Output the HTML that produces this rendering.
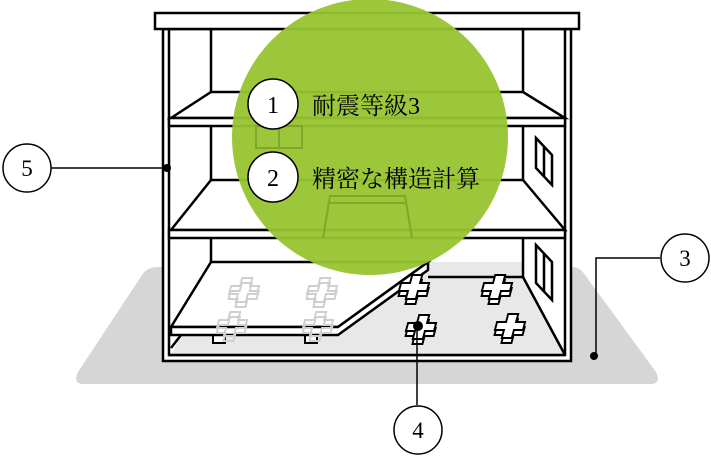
<!DOCTYPE html>
<html><head><meta charset="utf-8"><style>
html,body{margin:0;padding:0;background:#fff;width:711px;height:456px;overflow:hidden}
svg{display:block}
text{font-family:"Liberation Serif","Noto Serif CJK SC",serif}
</style></head><body>
<svg width="711" height="456" viewBox="0 0 711 456" xmlns="http://www.w3.org/2000/svg">
<defs>
<g id="plus" transform="skewX(-15)">
<path d="M-5,-12 L5,-12 L5,-4 L14,-4 L14,4 L5,4 L5,12 L-5,12 L-5,4 L-14,4 L-14,-4 L-5,-4 Z" transform="translate(1,5)"/>
<path d="M-5,-12 L5,-12 L5,-4 L14,-4 L14,4 L5,4 L5,12 L-5,12 L-5,4 L-14,4 L-14,-4 L-5,-4 Z"/>
</g>
</defs>
<path d="M158,267 L572,267 Q580,267 585,275 L656,372 Q662,384 650,384 L84,384 Q72,384 78,372 L142,275 Q147,267 158,267 Z" fill="#d6d6d6"/>
<g stroke="#000" stroke-width="2.5" fill="#fff">
<rect x="163" y="29" width="408" height="332" fill="#fff"/>
<rect x="169" y="29" width="396" height="326" fill="#fff"/>
<path d="M211,262 L523,262 L523,277 L565,355 L171,355 L181,335 L211,262 Z" fill="#e8e8e8" stroke="none"/>
<line x1="211" y1="29" x2="211" y2="262"/>
<line x1="523" y1="29" x2="523" y2="277"/>
<path d="M211,92 L523,92 L565,118 L171,118 Z"/>
<rect x="169" y="118" width="396" height="8"/>
<path d="M211,180 L523,180 L565,230 L171,230 Z"/>
<rect x="169" y="230" width="396" height="8"/>
<line x1="428" y1="277" x2="523" y2="277"/>
<line x1="523" y1="277" x2="565" y2="355"/>
<line x1="171" y1="348" x2="181" y2="335" />
<line x1="169" y1="355" x2="565" y2="355"/>
<path d="M536,138 L552,155 L552,185 L536,168 Z"/>
<line x1="544" y1="146" x2="544" y2="176"/>
<path d="M536,245 L552,262 L552,300 L536,283 Z"/>
<line x1="544" y1="253" x2="544" y2="291"/>
</g>
<g fill="#fff" stroke="#000" stroke-width="2">
<rect x="213" y="333" width="12" height="10"/>
<rect x="305" y="333" width="12" height="10"/>
</g>
<path d="M211,262 L428,262 L338,327 L171,327 Z" fill="#fff" stroke="#000" stroke-width="2.5"/>
<path d="M171,327 L338,327 L428,262 L428,270 L338,335 L171,335 Z" fill="#fff" stroke="#000" stroke-width="2.5"/>
<g fill="none" stroke="#cfcfcf" stroke-width="2">
<use href="#plus" x="244" y="290"/>
<use href="#plus" x="322" y="290"/>
<use href="#plus" x="232" y="324"/>
<use href="#plus" x="318" y="324"/>
</g>
<g fill="#fff" stroke="#000" stroke-width="2">
<use href="#plus" x="414" y="287"/>
<use href="#plus" x="497" y="287"/>
<use href="#plus" x="421" y="327"/>
<use href="#plus" x="510" y="326"/>
</g>
<rect x="155" y="13" width="424" height="16" fill="#fff" stroke="#000" stroke-width="2.5"/>
<circle cx="370" cy="137" r="138" fill="#97c430" fill-opacity="0.95"/>
<g stroke="#7fa82a" stroke-width="2" fill="none">
<rect x="256" y="126" width="23" height="22"/>
<rect x="279" y="126" width="23" height="22"/>
<path d="M323,238 L330,196 L405,196 L412,238"/>
<line x1="330" y1="203" x2="405" y2="203"/>
</g>
<g stroke="#000" stroke-width="1.5" fill="#fff">
<circle cx="273" cy="104" r="25"/>
<circle cx="273" cy="177" r="25"/>
</g>
<g font-size="24" text-anchor="middle" fill="#000">
<text x="273" y="113">1</text>
<text x="273" y="186">2</text>
</g>
<g font-size="24" fill="#000">
<text x="312" y="114">耐震等級3</text>
<text x="312" y="187">精密な構造計算</text>
</g>
<g stroke="#000" stroke-width="1.5" fill="none">
<line x1="51" y1="168" x2="167" y2="168"/>
<polyline points="660,258 596,258 596,356"/>
<line x1="417" y1="326" x2="417" y2="405"/>
</g>
<g fill="#000">
<circle cx="167" cy="168" r="4"/>
<circle cx="594" cy="356" r="4"/>
<circle cx="418" cy="326" r="5"/>
</g>
<g stroke="#000" stroke-width="1.5" fill="#fff">
<circle cx="27" cy="168" r="24"/>
<circle cx="685" cy="258" r="24"/>
<circle cx="418" cy="430" r="24"/>
</g>
<g font-size="23" text-anchor="middle" fill="#000">
<text x="27" y="176">5</text>
<text x="685" y="266">3</text>
<text x="418" y="438">4</text>
</g>
</svg>
</body></html>
